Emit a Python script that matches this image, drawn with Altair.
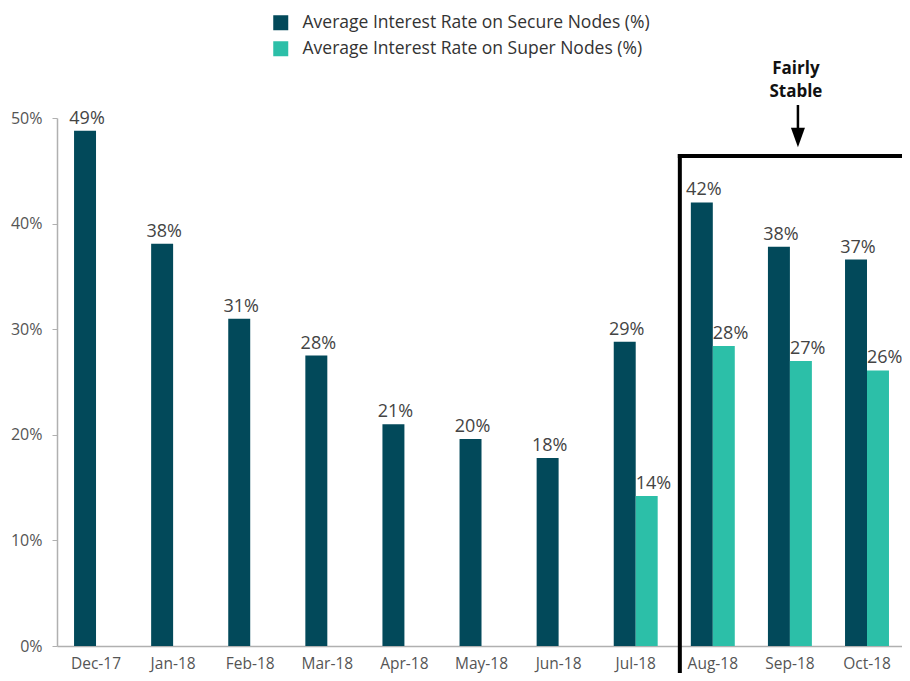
import altair as alt
import pandas as pd

months = ["Dec-17", "Jan-18", "Feb-18", "Mar-18", "Apr-18", "May-18",
          "Jun-18", "Jul-18", "Aug-18", "Sep-18", "Oct-18"]
series_names = ["Average Interest Rate on Secure Nodes (%)",
                "Average Interest Rate on Super Nodes (%)"]
secure = [0.488, 0.381, 0.310, 0.275, 0.210, 0.196, 0.178, 0.288, 0.420, 0.378, 0.366]
super_ = [None, None, None, None, None, None, None, 0.142, 0.284, 0.270, 0.261]
colors = ["#02495A", "#2CBFA8"]

rows = []
for m, a, b in zip(months, secure, super_):
    rows.append({"month": m, "series": series_names[0], "value": a})
    if b is not None:
        rows.append({"month": m, "series": series_names[1], "value": b})
df = pd.DataFrame(rows)

# annotation ("Fairly Stable" box and arrow) in data units
note_month = ["Sep-18", "Sep-18"]
note_text = ["Fairly", "Stable"]
note_y = [0.5414, 0.5202]
arrow_y = [0.5123]
arrow_y2 = [0.4886]
arrow_head_y = [0.4815]
box_month = ["Aug-18"]
box_top = [0.464]

FONT = "Open Sans"
W, H = 845, 528

xscale = alt.Scale(domain=months, paddingInner=0.43, paddingOuter=0.195, align=0.567)
yscale = alt.Scale(domain=[0, 0.5])
oscale = alt.Scale(domain=series_names, paddingInner=0)

base = alt.Chart(df)

bars = base.mark_bar().encode(
    x=alt.X("month:N", scale=xscale, sort=months, title=None,
            axis=alt.Axis(labelAngle=0, ticks=False, domainColor="#b0b0b0",
                          labelColor="#555555", labelFontSize=15.5, labelFont=FONT,
                          labelPadding=10, domainWidth=1.5)),
    xOffset=alt.XOffset("series:N", scale=oscale),
    y=alt.Y("value:Q", scale=yscale, title=None,
            axis=alt.Axis(format=".0%", values=[0, 0.1, 0.2, 0.3, 0.4, 0.5], grid=False,
                          domainColor="#b0b0b0", tickColor="#b0b0b0", tickSize=5,
                          labelColor="#555555", labelFontSize=16, labelFont=FONT,
                          labelPadding=10, domainWidth=1.5)),
    color=alt.Color("series:N", scale=alt.Scale(domain=series_names, range=colors),
                    legend=alt.Legend(orient="none", legendX=215, legendY=-104, title=None,
                                      symbolType="square", symbolSize=225,
                                      symbolStrokeWidth=0, labelFontSize=17.5,
                                      labelColor="#333333", labelFont=FONT, labelLimit=0,
                                      labelOffset=13, rowPadding=7, padding=0)),
)

lab_secure = base.transform_filter(alt.datum.series == series_names[0]).mark_text(
    baseline="alphabetic", dy=-7, dx=2, fontSize=18, font=FONT, color="#444444"
).encode(
    x=alt.X("month:N", scale=xscale, sort=months),
    xOffset=alt.XOffset("series:N", scale=oscale),
    y=alt.Y("value:Q", scale=yscale),
    text=alt.Text("value:Q", format=".0%"),
)

lab_super = base.transform_filter(alt.datum.series == series_names[1]).mark_text(
    baseline="alphabetic", align="left", dy=-7, dx=-11, fontSize=18, font=FONT, color="#444444"
).encode(
    x=alt.X("month:N", scale=xscale, sort=months),
    xOffset=alt.XOffset("series:N", scale=oscale),
    y=alt.Y("value:Q", scale=yscale),
    text=alt.Text("value:Q", format=".0%"),
)

notes_df = pd.DataFrame({"month": note_month, "text": note_text, "y": note_y})
notes = alt.Chart(notes_df).mark_text(
    baseline="alphabetic", fontSize=17, fontWeight="bold", font=FONT, color="#111111", dx=6
).encode(
    x=alt.X("month:N", scale=xscale, sort=months),
    y=alt.Y("y:Q", scale=yscale),
    text="text:N",
)

arrow_df = pd.DataFrame({"month": ["Sep-18"], "y": arrow_y, "y2": arrow_y2, "yh": arrow_head_y})
arrow_line = alt.Chart(arrow_df).mark_rule(color="#000000", strokeWidth=2.5).encode(
    x=alt.X("month:N", scale=xscale, sort=months),
    xOffset=alt.value(30),
    y=alt.Y("y:Q", scale=yscale),
    y2="y2:Q",
)
arrow_head = alt.Chart(arrow_df).mark_point(
    shape="M -0.5 -0.7 L 0.5 -0.7 L 0 0.7 Z", filled=True, color="#000000",
    size=784, opacity=1, strokeWidth=0
).encode(
    x=alt.X("month:N", scale=xscale, sort=months),
    xOffset=alt.value(30),
    y=alt.Y("yh:Q", scale=yscale),
)

box_df = pd.DataFrame({"month": box_month, "y": box_top})
box_left = alt.Chart(box_df).mark_rule(color="#000000", strokeWidth=4, strokeCap="square").encode(
    x=alt.X("month:N", scale=xscale, sort=months),
    xOffset=alt.value(-11),
    y=alt.Y("y:Q", scale=yscale),
    y2=alt.value(H + 60),
)
box_top_rule = alt.Chart(box_df).mark_rule(color="#000000", strokeWidth=4, strokeCap="square").encode(
    x=alt.X("month:N", scale=xscale, sort=months),
    xOffset=alt.value(-11),
    x2=alt.value(W + 40),
    y=alt.Y("y:Q", scale=yscale),
)

chart = alt.layer(
    bars, lab_secure, lab_super, notes, arrow_line, arrow_head, box_left, box_top_rule
).properties(
    width=W, height=H,
    autosize=alt.AutoSizeParams(type="none"),
    padding={"left": 49, "top": 110, "right": 0, "bottom": 27},
).configure(font=FONT).configure_view(stroke=None)

chart.save("out.html", embed_options={"renderer": "svg", "actions": False})
